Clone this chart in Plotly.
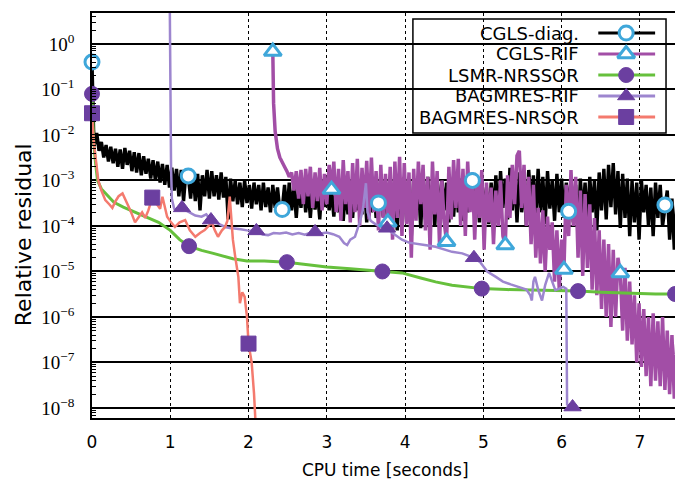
import plotly.graph_objects as go

# ---------------- data ----------------
# CGLS-diag. (black line, open blue circles)
diag_t = [0.00, 0.01, 0.02,
          0.03, 0.06, 0.09, 0.12, 0.15, 0.18, 0.21, 0.24, 0.27, 0.30,
          0.33, 0.36, 0.39, 0.42, 0.45, 0.48, 0.51, 0.54, 0.57, 0.60,
          0.63, 0.66, 0.69, 0.72, 0.75, 0.78, 0.81, 0.84, 0.87, 0.90,
          0.93, 0.96, 0.99, 1.02, 1.05, 1.08, 1.11, 1.14, 1.17, 1.20,
          1.23, 1.26, 1.29, 1.32, 1.35, 1.38, 1.41, 1.44, 1.47, 1.50,
          1.53, 1.56, 1.59, 1.62, 1.65, 1.68, 1.71, 1.74, 1.77, 1.80,
          1.83, 1.86, 1.89, 1.92, 1.95, 1.98, 2.01, 2.04, 2.07, 2.10,
          2.13, 2.16, 2.19, 2.22, 2.25, 2.28, 2.31, 2.34, 2.37, 2.40,
          2.43, 2.46, 2.49, 2.52, 2.55, 2.58, 2.61, 2.64, 2.67, 2.70,
          2.73, 2.76, 2.79, 2.82, 2.85, 2.88, 2.91, 2.94, 2.97, 3.00,
          3.03, 3.06, 3.09, 3.12, 3.15, 3.18, 3.21, 3.24, 3.27, 3.30,
          3.33, 3.36, 3.39, 3.42, 3.45, 3.48, 3.51, 3.54, 3.57, 3.60,
          3.63, 3.66, 3.69, 3.72, 3.75, 3.78, 3.81, 3.84, 3.87, 3.90,
          3.93, 3.96, 3.99, 4.02, 4.05, 4.08, 4.11, 4.14, 4.17, 4.20,
          4.23, 4.26, 4.29, 4.32, 4.35, 4.38, 4.41, 4.44, 4.47, 4.50,
          4.53, 4.56, 4.59, 4.62, 4.65, 4.68, 4.71, 4.74, 4.77, 4.80,
          4.83, 4.86, 4.89, 4.92, 4.95, 4.98, 5.01, 5.04, 5.07, 5.10,
          5.13, 5.16, 5.19, 5.22, 5.25, 5.28, 5.31, 5.34, 5.37, 5.40,
          5.43, 5.46, 5.49, 5.52, 5.55, 5.58, 5.61, 5.64, 5.67, 5.70,
          5.73, 5.76, 5.79, 5.82, 5.85, 5.88, 5.91, 5.94, 5.97, 6.00,
          6.03, 6.06, 6.09, 6.12, 6.15, 6.18, 6.21, 6.24, 6.27, 6.30,
          6.33, 6.36, 6.39, 6.42, 6.45, 6.48, 6.51, 6.54, 6.57, 6.60,
          6.63, 6.66, 6.69, 6.72, 6.75, 6.78, 6.81, 6.84, 6.87, 6.90,
          6.93, 6.96, 6.99, 7.02, 7.05, 7.08, 7.11, 7.14, 7.17, 7.20,
          7.23, 7.26, 7.29, 7.32, 7.35, 7.38, 7.41, 7.44, 7.47, 7.50]
diag_v = [4.0e-1, 3.0e-2, 1.3e-2,
          6.0e-3, 1.1e-2, 4.5e-3, 7.0e-3, 3.2e-3, 6.0e-3, 2.6e-3, 5.5e-3, 2.4e-3, 5.0e-3,
          2.0e-3, 4.8e-3, 1.8e-3, 5.2e-3, 2.2e-3, 4.5e-3, 1.6e-3, 4.2e-3, 1.5e-3, 4.0e-3,
          1.3e-3, 3.4e-3, 1.4e-3, 3.0e-3, 1.1e-3, 2.8e-3, 1.0e-3, 2.6e-3, 9.0e-4, 2.3e-3,
          8.0e-4, 2.2e-3, 7.0e-4, 1.9e-3, 6.0e-4, 1.8e-3, 4.5e-4, 1.7e-3, 3.5e-4, 1.5e-3,
          1.26e-3, 4.0e-4, 1.6e-3, 3.5e-4, 1.4e-3, 2.2e-4, 1.3e-3, 4.5e-4, 1.7e-3, 4.0e-4,
          1.6e-3, 4.5e-4, 1.3e-3, 3.8e-4, 1.5e-3, 4.2e-4, 1.2e-3, 1.4e-4, 1.1e-3, 3.5e-4,
          1.0e-3, 3.0e-4, 9.0e-4, 2.6e-4, 1.0e-3, 3.2e-4, 8.0e-4, 2.4e-4, 9.0e-4, 3.0e-4,
          8.0e-4, 2.2e-4, 9.0e-4, 2.6e-4, 7.0e-4, 2.0e-4, 8.0e-4, 2.5e-4, 7.0e-4, 2.2e-4,
          2.3e-4, 8.0e-4, 1.8e-4, 9.0e-4, 2.2e-4, 7.0e-4, 1.5e-4, 8.0e-4, 2.5e-4, 9.0e-4,
          2.0e-4, 7.0e-4, 1.5e-4, 8.0e-4, 2.3e-4, 6.0e-4, 1.4e-4, 9.0e-4, 2.6e-4, 8.0e-4,
          2.2e-4, 6.0e-4, 1.6e-4, 7.0e-4, 2.0e-4, 5.5e-4, 1.3e-4, 6.5e-4, 1.8e-4, 6.0e-4,
          1.5e-4, 8.0e-4, 2.2e-4, 1.0e-3, 1.8e-4, 9.0e-4, 1.2e-4, 1.1e-3, 2.0e-4, 8.0e-4,
          1.5e-4, 3.2e-4, 1.1e-3, 1.6e-4, 9.0e-4, 1.0e-4, 1.2e-3, 2.0e-4, 9.0e-4, 8.0e-5,
          1.0e-3, 1.5e-4, 1.2e-3, 1.2e-4, 8.0e-4, 6.0e-5, 1.1e-3, 1.8e-4, 9.0e-4, 9.0e-5,
          1.0e-3, 1.4e-4, 1.2e-3, 2.0e-4, 8.0e-4, 1.0e-4, 1.1e-3, 1.6e-4, 1.0e-3, 2.2e-4,
          9.0e-4, 1.2e-4, 1.1e-3, 1.6e-4, 8.0e-4, 2.0e-4, 1.1e-3, 1.3e-4, 1.0e-3, 2.0e-4,
          1.2e-3, 1.0e-3, 2.0e-4, 8.0e-4, 1.2e-4, 1.0e-3, 1.8e-4, 7.0e-4, 1.1e-4, 9.0e-4,
          1.8e-4, 1.3e-3, 1.2e-4, 1.6e-3, 2.5e-4, 1.1e-3, 1.4e-4, 1.9e-3, 2.2e-4, 1.4e-3,
          1.2e-4, 1.5e-3, 2.0e-4, 1.1e-3, 1.0e-4, 1.7e-3, 2.5e-4, 1.3e-3, 1.4e-4, 1.8e-3,
          2.0e-4, 1.2e-3, 1.1e-4, 1.6e-3, 2.4e-4, 1.0e-3, 1.3e-4, 1.4e-3, 2.0e-4, 1.1e-3,
          1.5e-4, 9.0e-4, 2.1e-4, 1.0e-3, 1.2e-4, 8.0e-4, 6.0e-5, 1.1e-3, 1.6e-4, 9.0e-4,
          1.0e-4, 1.2e-3, 2.0e-4, 1.0e-3, 8.0e-5, 1.5e-3, 2.2e-4, 1.8e-3, 1.4e-4, 2.2e-3,
          2.6e-4, 2.4e-3, 1.8e-4, 1.6e-3, 9.0e-5, 1.4e-3, 1.5e-4, 1.1e-3, 6.0e-5, 1.0e-3,
          1.2e-4, 9.0e-4, 5.0e-5, 1.0e-3, 2.0e-4, 8.0e-4, 1.0e-4, 7.0e-4, 6.0e-5, 9.0e-4,
          1.5e-4, 8.0e-4, 1.0e-4, 2.9e-4, 6.0e-4, 5.0e-5, 4.0e-4, 3.0e-5, 3.0e-4, 6.0e-5]
diag_mark_t = [0.00, 1.23, 2.43, 3.66, 4.86, 6.09, 7.32]
diag_mark_v = [4.0e-1, 1.26e-3, 2.3e-4, 3.2e-4, 1.0e-3, 2.1e-4, 2.9e-4]

# CGLS-RIF (magenta line, open blue triangles)
rif_t = [2.31, 2.32, 2.34, 2.37,
         2.40, 2.43, 2.46, 2.49, 2.52, 2.55, 2.58, 2.61, 2.64, 2.67,
         2.70, 2.73, 2.76, 2.79, 2.82, 2.85, 2.88, 2.91, 2.94, 2.97,
         3.00, 3.03, 3.06, 3.09, 3.12, 3.15, 3.18, 3.21, 3.24, 3.27,
         3.30, 3.33, 3.36, 3.39, 3.42, 3.45, 3.48, 3.51, 3.54, 3.57,
         3.60, 3.63, 3.66, 3.69, 3.72, 3.75, 3.78, 3.81, 3.84, 3.87,
         3.90, 3.93, 3.96, 3.99, 4.02, 4.05, 4.08, 4.11, 4.14, 4.17,
         4.20, 4.23, 4.26, 4.29, 4.32, 4.35, 4.38, 4.41, 4.44, 4.47,
         4.50, 4.53, 4.56, 4.59, 4.62, 4.65, 4.68, 4.71, 4.74, 4.77,
         4.80, 4.83, 4.86, 4.89, 4.92, 4.95, 4.98, 5.01, 5.04, 5.07,
         5.10, 5.13, 5.16, 5.19, 5.22, 5.25, 5.28, 5.31, 5.34, 5.37,
         5.40, 5.43, 5.46, 5.49, 5.52, 5.55, 5.58, 5.61, 5.64, 5.67,
         5.70, 5.73, 5.76, 5.79, 5.82, 5.85, 5.88, 5.91, 5.94, 5.97,
         6.00, 6.03, 6.06, 6.09, 6.12, 6.15, 6.18, 6.21, 6.24, 6.27,
         6.30, 6.33, 6.36, 6.39, 6.42, 6.45, 6.48, 6.51, 6.54, 6.57,
         6.60, 6.63, 6.66, 6.69, 6.72, 6.75, 6.78, 6.81, 6.84, 6.87,
         6.90, 6.93, 6.96, 6.99, 7.02, 7.05, 7.08, 7.11, 7.14, 7.17,
         7.20, 7.23, 7.26, 7.29, 7.32, 7.35, 7.38, 7.41, 7.44, 7.47,
         7.50]
rif_v = [6.8e-1, 5.0e-2, 1.2e-2, 5.0e-3,
         3.2e-3, 2.4e-3, 2.0e-3, 1.6e-3, 1.2e-3, 1.5e-3, 6.0e-4, 1.6e-3, 4.0e-4, 1.7e-3,
         3.0e-4, 1.8e-3, 4.5e-4, 2.0e-3, 2.5e-4, 1.5e-3, 3.5e-4, 1.9e-3, 2.2e-4, 1.4e-3,
         3.0e-4, 2.2e-3, 6.3e-4, 2.6e-3, 2.0e-4, 1.8e-3, 1.3e-4, 2.8e-3, 3.0e-4, 1.6e-3,
         1.2e-4, 2.4e-3, 2.0e-4, 3.0e-3, 1.0e-4, 1.9e-3, 2.5e-4, 2.7e-3, 1.4e-4, 3.2e-3,
         2.0e-4, 1.6e-3, 8.0e-5, 2.2e-3, 1.5e-4, 1.4e-3, 1.2e-4, 2.0e-3, 5.0e-5, 2.6e-3,
         1.5e-4, 3.3e-3, 6.0e-5, 2.4e-3, 1.1e-4, 1.5e-3, 2.0e-5, 1.8e-3, 1.3e-4, 2.6e-3,
         3.0e-4, 2.2e-3, 8.0e-5, 1.2e-3, 3.0e-5, 2.6e-3, 1.8e-4, 1.6e-3, 4.0e-5, 1.0e-3,
         1.2e-4, 4.5e-5, 2.0e-3, 1.4e-4, 2.8e-3, 2.5e-4, 3.0e-3, 1.0e-4, 1.8e-3, 6.0e-5,
         2.6e-3, 2.0e-4, 1.5e-3, 5.0e-5, 1.2e-3, 1.5e-4, 1.7e-3, 3.0e-5, 9.0e-4, 1.2e-4,
         7.0e-4, 4.0e-5, 6.0e-4, 1.0e-4, 1.0e-3, 6.0e-5, 3.8e-5, 1.3e-3, 1.5e-4, 2.2e-3,
         3.0e-4, 3.5e-3, 4.5e-3, 2.5e-4, 2.2e-3, 1.0e-4, 1.2e-3, 4.0e-5, 8.0e-4, 2.0e-5,
         2.5e-4, 1.5e-5, 2.2e-4, 1.0e-5, 1.6e-4, 3.0e-5, 1.2e-4, 6.0e-6, 8.0e-5, 4.0e-6,
         5.0e-5, 1.1e-5, 8.0e-4, 6.0e-5, 1.7e-3, 1.0e-4, 1.2e-3, 2.0e-5, 6.0e-4, 8.0e-6,
         5.0e-4, 1.2e-5, 3.0e-4, 4.0e-6, 1.5e-4, 3.0e-6, 8.0e-5, 1.5e-6, 5.0e-5, 1.0e-6,
         4.0e-5, 6.0e-7, 3.0e-5, 1.0e-6, 2.0e-5, 9.3e-6, 5.0e-7, 1.2e-5, 3.0e-7, 6.0e-6,
         2.5e-7, 3.0e-6, 1.0e-7, 2.0e-6, 8.0e-8, 1.5e-6, 5.0e-8, 1.0e-6, 3.0e-8, 1.2e-6,
         4.0e-8, 8.0e-7, 3.0e-8, 1.0e-6, 2.5e-8, 5.0e-7, 2.0e-8, 4.0e-7, 1.6e-8, 2.5e-7,
         1.6e-8]
rif_mark_t = [2.31, 3.06, 3.78, 4.53, 5.28, 6.03, 6.75]
rif_mark_v = [6.8e-1, 6.3e-4, 1.2e-4, 4.5e-5, 3.8e-5, 1.1e-5, 9.3e-6]

# LSMR-NRSSOR (green line, filled purple circles)
lsmr_t = [0.00, 0.01, 0.02, 0.04, 0.07, 0.12, 0.18, 0.28, 0.40, 0.55,
          0.70, 0.85, 1.00, 1.12, 1.24, 1.40, 1.55, 1.80, 1.98, 2.20,
          2.49, 2.75, 3.00, 3.30, 3.71, 3.96, 4.20, 4.39, 4.60, 4.82,
          4.98, 5.30, 5.67, 6.00, 6.21, 6.51, 6.90, 7.20, 7.45, 7.50]
lsmr_v = [8.0e-2, 2.0e-2, 8.0e-3, 3.0e-3, 1.0e-3, 6.5e-4, 5.0e-4, 3.3e-4, 2.6e-4, 2.0e-4,
          1.6e-4, 1.2e-4, 8.0e-5, 5.0e-5, 3.6e-5, 2.9e-5, 2.5e-5, 1.9e-5, 1.7e-5, 1.7e-5,
          1.6e-5, 1.4e-5, 1.25e-5, 1.15e-5, 1.0e-5, 9.3e-6, 7.2e-6, 5.9e-6, 5.0e-6, 4.6e-6,
          4.2e-6, 4.0e-6, 3.9e-6, 3.8e-6, 3.7e-6, 3.5e-6, 3.3e-6, 3.2e-6, 3.2e-6, 3.1e-6]
lsmr_mark_t = [0.00, 1.24, 2.49, 3.71, 4.98, 6.21, 7.45]
lsmr_mark_v = [8.0e-2, 3.6e-5, 1.6e-5, 1.0e-5, 4.2e-6, 3.7e-6, 3.2e-6]

# BAGMRES-RIF (light purple line, filled purple triangles)
bagrif_t = [0.99, 1.00, 1.01, 1.02, 1.05, 1.10, 1.15, 1.20, 1.25, 1.32,
            1.40, 1.46, 1.52, 1.58, 1.64, 1.70, 1.76, 1.83, 1.90, 1.98,
            2.04, 2.10, 2.18, 2.25, 2.32, 2.40, 2.48, 2.56, 2.64, 2.72,
            2.80, 2.85, 2.92, 3.00, 3.08, 3.16, 3.22, 3.26, 3.30, 3.36,
            3.42, 3.46, 3.50, 3.52, 3.56, 3.62, 3.68, 3.77, 3.84, 3.90,
            3.96, 4.05, 4.15, 4.25, 4.39, 4.50, 4.60, 4.73, 4.88, 4.96,
            5.05, 5.16, 5.25, 5.35, 5.45, 5.55, 5.60, 5.62, 5.64, 5.66,
            5.70, 5.75, 5.79, 5.84, 5.88, 5.92, 5.97, 6.02, 6.06, 6.07,
            6.14]
bagrif_v = [5.0e1, 3.0e-2, 2.0e-3, 4.0e-4, 2.4e-4, 2.3e-4, 2.5e-4, 2.2e-4, 2.0e-4, 1.7e-4,
            1.6e-4, 1.8e-4, 1.35e-4, 1.2e-4, 1.05e-4, 9.5e-5, 9.0e-5, 8.9e-5, 8.5e-5, 8.0e-5,
            7.8e-5, 7.8e-5, 6.5e-5, 6.3e-5, 7.0e-5, 6.8e-5, 7.2e-5, 6.5e-5, 7.0e-5, 6.4e-5,
            7.2e-5, 7.4e-5, 6.8e-5, 7.2e-5, 6.6e-5, 5.8e-5, 4.2e-5, 3.8e-5, 5.0e-5, 5.8e-5,
            1.2e-4, 2.2e-4, 8.7e-4, 2.0e-4, 1.3e-4, 1.1e-4, 1.0e-4, 8.9e-5, 7.0e-5, 6.0e-5,
            5.0e-5, 4.3e-5, 4.0e-5, 3.8e-5, 3.5e-5, 3.0e-5, 2.7e-5, 2.5e-5, 2.0e-5, 1.6e-5,
            1.0e-5, 7.6e-6, 6.0e-6, 5.2e-6, 4.6e-6, 4.0e-6, 3.0e-6, 2.3e-6, 6.0e-6, 7.6e-6,
            4.0e-6, 2.3e-6, 5.0e-6, 9.3e-6, 6.0e-6, 3.9e-6, 4.2e-6, 4.6e-6, 4.2e-6, 1.2e-8,
            1.05e-8]
bagrif_mark_t = [1.15, 1.52, 2.10, 2.85, 3.77, 4.88, 6.14]
bagrif_mark_v = [2.5e-4, 1.35e-4, 7.8e-5, 7.4e-5, 8.9e-5, 2.0e-5, 1.05e-8]

# BAGMRES-NRSOR (salmon line, filled purple squares)
nrsor_t = [0.00, 0.02, 0.045, 0.08, 0.12, 0.17, 0.22, 0.26, 0.30, 0.34,
           0.39, 0.43, 0.47, 0.51, 0.55, 0.60, 0.64, 0.68, 0.72, 0.77,
           0.82, 0.87, 0.90, 0.93, 0.96, 1.01, 1.06, 1.12, 1.19, 1.25,
           1.32, 1.38, 1.44, 1.49, 1.53, 1.57, 1.61, 1.66, 1.70, 1.73,
           1.76, 1.78, 1.80, 1.83, 1.87, 1.89, 1.92, 1.95, 1.98, 2.00,
           2.04, 2.07, 2.09, 2.11]
nrsor_v = [3.0e-2, 8.0e-3, 3.3e-3, 1.0e-3, 6.0e-4, 3.7e-4, 3.0e-4, 2.5e-4, 3.5e-4, 4.5e-4,
           5.2e-4, 3.5e-4, 2.6e-4, 1.8e-4, 1.2e-4, 1.6e-4, 2.0e-4, 1.5e-4, 2.2e-4, 4.2e-4,
           3.2e-4, 2.4e-4, 4.4e-4, 2.8e-4, 1.6e-4, 1.2e-4, 9.5e-5, 1.2e-4, 1.35e-4, 8.0e-5,
           5.8e-5, 7.0e-5, 8.1e-5, 1.0e-4, 1.2e-4, 8.0e-5, 5.8e-5, 8.0e-5, 9.5e-5, 1.3e-4,
           4.4e-4, 1.5e-4, 5.0e-5, 2.1e-5, 7.6e-6, 2.0e-6, 3.5e-6, 2.8e-6, 1.0e-6, 2.6e-7,
           1.0e-7, 2.1e-8, 5.0e-9, 1.0e-9]
nrsor_mark_t = [0.00, 0.77, 2.00]
nrsor_mark_v = [3.0e-2, 4.2e-4, 2.6e-7]

series_names = ["CGLS-diag.", "CGLS-RIF", "LSMR-NRSSOR", "BAGMRES-RIF", "BAGMRES-NRSOR"]
x_tick_vals = [0, 1, 2, 3, 4, 5, 6, 7]
y_tick_vals = [1, 1e-1, 1e-2, 1e-3, 1e-4, 1e-5, 1e-6, 1e-7, 1e-8]
y_tick_text = ["10<sup>0</sup>", "10<sup>\u22121</sup>", "10<sup>\u22122</sup>",
               "10<sup>\u22123</sup>", "10<sup>\u22124</sup>", "10<sup>\u22125</sup>",
               "10<sup>\u22126</sup>", "10<sup>\u22127</sup>", "10<sup>\u22128</sup>"]

# ---------------- styles ----------------
SANS = "DejaVu Sans"
BLUE = "#3fa7da"
PURPLE = "#6b3fa0"
line_colors = ["#000000", "#a24ea6", "#66c03c", "#9d86cf", "#f47a6e"]
line_widths = [3.4, 3.5, 3, 2.5, 2.5]
marker_styles = [
    dict(symbol="circle", size=14, color="white", line=dict(color=BLUE, width=3)),
    dict(symbol="triangle-up", size=15, color="white", line=dict(color=BLUE, width=3)),
    dict(symbol="circle", size=15, color=PURPLE, line=dict(color=PURPLE, width=1)),
    dict(symbol="triangle-up", size=15, color=PURPLE, line=dict(color=PURPLE, width=1)),
    dict(symbol="square", size=15, color=PURPLE, line=dict(color=PURPLE, width=1)),
]

lines = [(diag_t, diag_v), (rif_t, rif_v), (lsmr_t, lsmr_v), (bagrif_t, bagrif_v), (nrsor_t, nrsor_v)]
marks = [(diag_mark_t, diag_mark_v), (rif_mark_t, rif_mark_v), (lsmr_mark_t, lsmr_mark_v),
         (bagrif_mark_t, bagrif_mark_v), (nrsor_mark_t, nrsor_mark_v)]

fig = go.Figure()
for (t, v), name, c, w in zip(lines, series_names, line_colors, line_widths):
    fig.add_trace(go.Scatter(x=t, y=v, mode="lines", name=name,
                             line=dict(color=c, width=w), showlegend=False,
                             hoverinfo="skip"))
for (t, v), name, ms in zip(marks, series_names, marker_styles):
    fig.add_trace(go.Scatter(x=t, y=v, mode="markers", name=name, cliponaxis=False,
                             marker=ms, showlegend=False, hoverinfo="skip"))

# ---------------- manual legend (symbols to the right of the labels) ----------------
leg_rows = [0.9506, 0.8988, 0.8469, 0.7951, 0.7432]
leg_line_x = [0.8625, 0.9593]
leg_mark_x = 0.910
for i, name in enumerate(series_names):
    yy = leg_rows[i]
    fig.add_trace(go.Scatter(x=leg_line_x, y=[yy, yy], xaxis="x2", yaxis="y2", mode="lines",
                             line=dict(color=line_colors[i], width=3), showlegend=False,
                             hoverinfo="skip"))
    fig.add_trace(go.Scatter(x=[leg_mark_x], y=[yy], xaxis="x2", yaxis="y2", mode="markers",
                             marker=marker_styles[i], showlegend=False, hoverinfo="skip"))
    fig.add_annotation(x=0.8336, y=yy, xref="paper", yref="paper", text=name,
                       showarrow=False, xanchor="right", yanchor="middle",
                       font=dict(family=SANS, size=18, color="black"))

fig.add_shape(type="rect", xref="paper", yref="paper", x0=0.5467, x1=0.9779, y0=0.7037, y1=0.9852,
              line=dict(color="black", width=1.5), fillcolor="white", layer="between")

# axis titles
fig.add_annotation(x=-0.1154, y=0.452, xref="paper", yref="paper", text="Relative residual",
                   textangle=-90, showarrow=False, xanchor="center", yanchor="middle",
                   font=dict(family=SANS, size=22, color="black"))
fig.add_annotation(x=0.5, y=-0.1284, xref="paper", yref="paper", text="CPU time [seconds]",
                   showarrow=False, xanchor="center", yanchor="middle",
                   font=dict(family=SANS, size=17, color="black"))

# page body has an 8px margin: the figure is sized/offset to land on the 683x481 window
fig.update_layout(
    width=675, height=473, autosize=False,
    margin=dict(l=84, r=2, t=5, b=63),
    paper_bgcolor="white", plot_bgcolor="white",
    showlegend=False,
    xaxis=dict(range=[0, 7.5], tickmode="array", tickvals=x_tick_vals,
               showgrid=True, gridcolor="black", griddash="dot", gridwidth=1,
               showline=True, linecolor="black", linewidth=1.5, mirror=True,
               ticks="", zeroline=False, ticklabelstandoff=8,
               tickfont=dict(family=SANS, size=17, color="black")),
    yaxis=dict(type="log", range=[-8.22, 0.68], tickmode="array", tickvals=y_tick_vals,
               ticktext=y_tick_text, showgrid=True, gridcolor="black", gridwidth=1.5,
               showline=True, linecolor="black", linewidth=1.5, mirror="ticks",
               ticks="", zeroline=False, ticklabelstandoff=12,
               minor=dict(ticks="inside", ticklen=4, tickcolor="black", dtick="D1", showgrid=False),
               tickfont=dict(family="Liberation Serif", size=19, color="black")),
    xaxis2=dict(overlaying="x", range=[0, 1], visible=False),
    yaxis2=dict(overlaying="y", range=[0, 1], visible=False),
)

fig.write_html("out.html")
